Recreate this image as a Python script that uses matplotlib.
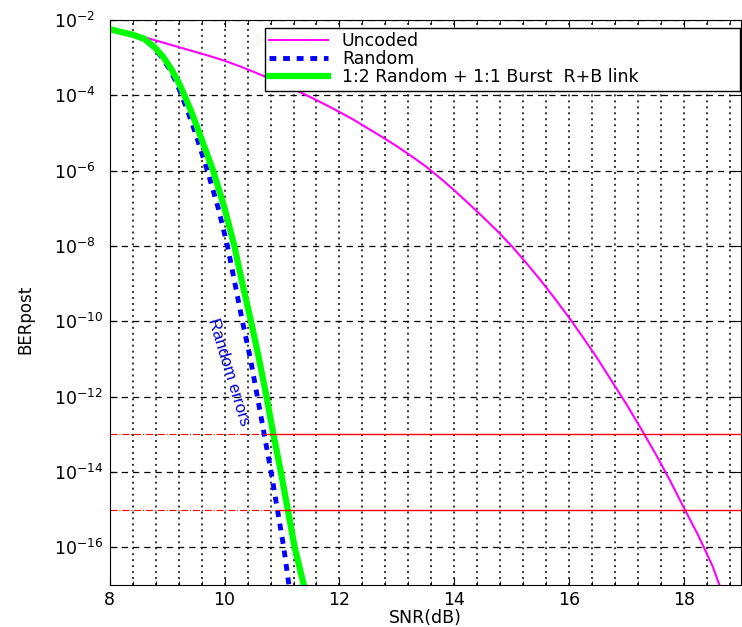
import numpy as np
import matplotlib
matplotlib.use('Agg')
import matplotlib.pyplot as plt
from matplotlib.ticker import MultipleLocator, FixedLocator, NullLocator

plt.rcParams['font.family'] = ['DejaVu Sans']
plt.rcParams['mathtext.fontset'] = 'dejavusans'

# curva sin codificar (log10 del BER)
snr_unc = [8, 8.25, 8.5, 8.75, 9, 9.25, 9.5, 9.75, 10, 10.25, 10.5, 10.75, 11, 11.25,
           11.5, 11.75, 12, 12.25, 12.5, 12.75, 13, 13.25, 13.5, 13.75, 14, 14.25,
           14.5, 14.75, 15, 15.25, 15.5, 15.75, 16, 16.25, 16.5, 16.75, 17, 17.25,
           17.5, 17.75, 18, 18.25, 18.5, 18.62]
lber_unc = [-2.22, -2.31, -2.41, -2.52, -2.63, -2.74, -2.85, -2.96, -3.08, -3.22,
            -3.37, -3.53, -3.70, -3.87, -4.05, -4.24, -4.44, -4.65, -4.88, -5.11,
            -5.35, -5.61, -5.88, -6.19, -6.52, -6.87, -7.23, -7.60, -8.0, -8.44,
            -8.9, -9.39, -9.9, -10.44, -11.0, -11.6, -12.2, -12.84, -13.5, -14.2,
            -14.95, -15.68, -16.5, -17.0]

# errores aleatorios
snr_rand = [8, 8.2, 8.4, 8.59, 8.76, 8.9, 9.04, 9.16, 9.25, 9.36, 9.49, 9.70, 9.89,
            10.05, 10.18, 10.31, 10.45, 10.57, 10.69, 10.81, 10.92, 11.03, 11.12]
lber_rand = [-2.24, -2.32, -2.39, -2.50, -2.72, -2.98, -3.30, -3.66, -4.0, -4.43, -5.0,
             -6.0, -7.0, -8.0, -9.0, -10.0, -11.0, -12.0, -13.0, -14.0, -15.0, -16.0,
             -17.0]

# 1:2 aleatorio + 1:1 rafaga
snr_rb = [8, 8.2, 8.4, 8.6, 8.78, 8.93, 9.07, 9.2, 9.3, 9.42, 9.56, 9.80, 10.0,
          10.17, 10.31, 10.46, 10.60, 10.73, 10.85, 10.98, 11.10, 11.22, 11.38]
lber_rb = [-2.24, -2.32, -2.39, -2.50, -2.72, -2.98, -3.30, -3.66, -4.0, -4.43, -5.0,
           -6.0, -7.0, -8.0, -9.0, -10.0, -11.0, -12.0, -13.0, -14.0, -15.0, -16.0,
           -17.0]

# umbrales (BER objetivo) y donde empieza el tramo continuo
umbrales = [1e-13, 1e-15]
inicio_solido = [10.78, 10.98]

fig = plt.figure(figsize=(7.42, 6.27), dpi=100)
ax = fig.add_axes([0.148, 0.067, 0.851, 0.901])

ax.semilogy(snr_unc, 10.0 ** np.array(lber_unc), color='#ff00ff', lw=1.5, label='Uncoded')
ax.semilogy(snr_rand, 10.0 ** np.array(lber_rand), color='#0000ff', lw=3.5,
            linestyle=(0, (1.4, 1.4)), label='Random')
ax.semilogy(snr_rb, 10.0 ** np.array(lber_rb), color='#00ff00', lw=4.5,
            label='1:2 Random + 1:1 Burst  R+B link')

for u, xs in zip(umbrales, inicio_solido):
    ax.plot([8, xs], [u, u], color='red', lw=0.8, linestyle='-.')
    ax.plot([xs, 19], [u, u], color='red', lw=1.0)

ax.text(10.07, 10 ** -11.35, 'Random errors', color='#0000cc', fontsize=12,
        family='Liberation Sans', rotation=-73, ha='center', va='center')

ax.set_xlim(8, 19)
ax.set_ylim(1e-17, 1e-2)
ax.xaxis.set_major_locator(MultipleLocator(2))
ax.xaxis.set_minor_locator(MultipleLocator(0.4))
ax.yaxis.set_major_locator(FixedLocator([10.0 ** e for e in range(-16, -1, 2)]))
ax.yaxis.set_minor_locator(NullLocator())
ax.tick_params(which='both', direction='in', top=True, right=True, labelsize=12.5)
ax.tick_params(which='major', length=5)
ax.tick_params(which='minor', length=3)
ax.tick_params(axis='x', pad=4)
ax.tick_params(axis='y', pad=40)
for lab in ax.get_yticklabels():
    lab.set_horizontalalignment('left')

for xv in np.arange(8.4, 19, 0.4):
    ax.axvline(xv, color='black', lw=1.1, linestyle=(0, (1.3, 2.6)), zorder=0)
for e in range(-16, -1, 2):
    ax.axhline(10.0 ** e, color='black', lw=0.9, linestyle=(0, (5, 4)), zorder=0)

ax.set_xlabel('SNR(dB)', fontsize=12.5, labelpad=0)
ax.set_ylabel('BERpost', fontsize=12)
ax.yaxis.set_label_coords(-0.12, 0.47)

leg = ax.legend(loc='upper left', bbox_to_anchor=(0.245, 0.876, 0.753, 0.11),
                mode='expand', fontsize=12.5, frameon=True, fancybox=False,
                borderaxespad=0, handlelength=3.4, labelspacing=0.0,
                borderpad=0.25, handletextpad=0.8)
leg.get_frame().set_edgecolor('black')
leg.get_frame().set_linewidth(1.0)
leg.get_frame().set_alpha(1)

fig.savefig('out.png', dpi=100)
